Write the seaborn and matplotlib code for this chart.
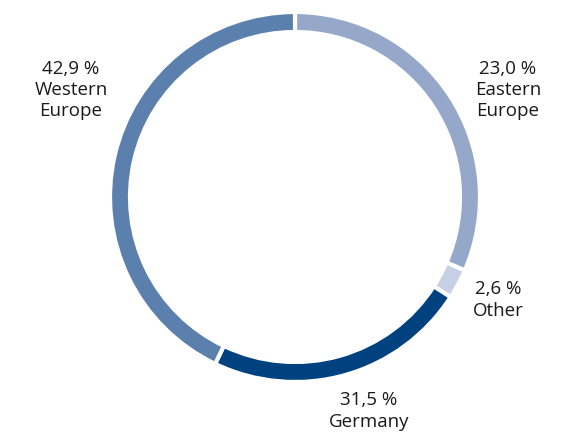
import matplotlib.pyplot as plt
import seaborn as sns

# revenue share by region, clockwise from the top
regions = ['Eastern\nEurope', 'Other', 'Germany', 'Western\nEurope']
arc_sizes = [31.5, 2.6, 23.0, 42.9]      # arc lengths as drawn in the picture
label_values = [23.0, 2.6, 31.5, 42.9]   # percentages printed on the labels
colors = ['#95a8ca', '#c6d0e5', '#00427f', '#5c80ae']

sns.set_theme(style='white')
plt.rcParams['font.family'] = ['Open Sans', 'DejaVu Sans']

fig = plt.figure(figsize=(5.79, 4.34), dpi=100)
ax = fig.add_axes([0, 0, 1, 1])

ax.pie(arc_sizes, colors=colors, startangle=90, counterclock=False,
       radius=185, center=(295, 237),
       wedgeprops=dict(width=20, edgecolor='white', linewidth=3))

# label positions (pixel layout)
label_pos = [(508, 344), (498, 134), (369, 23), (71, 344)]
for name, val, (x, y) in zip(regions, label_values, label_pos):
    txt = f'{val:.1f} %'.replace('.', ',') + '\n' + name
    ax.text(x, y, txt, ha='center', va='center', fontsize=13.5,
            color='#1a1a1a', linespacing=1.22)

ax.set_xlim(0, 579)
ax.set_ylim(0, 434)
ax.set_aspect('equal')
ax.axis('off')

plt.savefig('out.png', dpi=100)
